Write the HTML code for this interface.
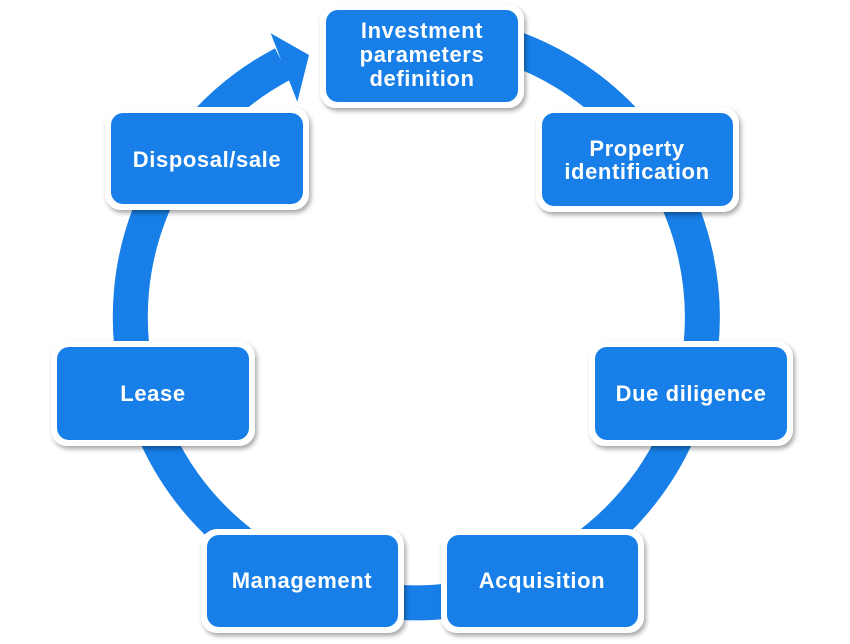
<!DOCTYPE html>
<html>
<head>
<meta charset="utf-8">
<style>
  html,body{margin:0;padding:0;background:#fff;}
  body{width:850px;height:644px;overflow:hidden;}
  svg{display:block;}
  text{font-family:"Liberation Sans", Arial, sans-serif;font-weight:bold;font-size:22px;fill:#fff;letter-spacing:0.6px;}
</style>
</head>
<body>
<svg width="850" height="644" viewBox="0 0 850 644" xmlns="http://www.w3.org/2000/svg">
  <defs>
    <filter id="sh" x="-20%" y="-20%" width="140%" height="150%">
      <feDropShadow dx="2" dy="3" stdDeviation="2.5" flood-color="#000" flood-opacity="0.35"/>
    </filter>
  </defs>

  <!-- ring -->
  <path d="M 366.3 35.3 A 286 286 0 1 1 283.1 63.8" fill="none" stroke="#177fe7" stroke-width="35"/>
  <!-- arrowhead -->
  <polygon points="270.7,33.3 309,55 297.3,101.7" fill="#177fe7"/>

  <!-- boxes -->
  <g filter="url(#sh)">
    <rect x="320" y="4" width="204" height="104" rx="16" fill="#fff"/>
    <rect x="536" y="107" width="203" height="105" rx="16" fill="#fff"/>
    <rect x="589" y="341" width="204" height="105" rx="16" fill="#fff"/>
    <rect x="441" y="529" width="203" height="104" rx="16" fill="#fff"/>
    <rect x="201" y="529" width="203" height="104" rx="16" fill="#fff"/>
    <rect x="51" y="341" width="204" height="105" rx="16" fill="#fff"/>
    <rect x="105" y="107" width="204" height="103" rx="16" fill="#fff"/>
  </g>
  <g fill="#177fe7">
    <rect x="326" y="10" width="192" height="92" rx="12"/>
    <rect x="542" y="113" width="191" height="93" rx="12"/>
    <rect x="595" y="347" width="192" height="93" rx="12"/>
    <rect x="447" y="535" width="191" height="92" rx="12"/>
    <rect x="207" y="535" width="191" height="92" rx="12"/>
    <rect x="57" y="347" width="192" height="93" rx="12"/>
    <rect x="111" y="113" width="192" height="91" rx="12"/>
  </g>

  <!-- labels -->
  <text x="422" y="38" text-anchor="middle">Investment</text>
  <text x="422" y="62" text-anchor="middle">parameters</text>
  <text x="422" y="86" text-anchor="middle">definition</text>

  <text x="637" y="156" text-anchor="middle">Property</text>
  <text x="637" y="179" text-anchor="middle">identification</text>

  <text x="691" y="401" text-anchor="middle">Due diligence</text>
  <text x="542" y="588" text-anchor="middle">Acquisition</text>
  <text x="302" y="588" text-anchor="middle">Management</text>
  <text x="153" y="401" text-anchor="middle">Lease</text>
  <text x="207" y="167" text-anchor="middle">Disposal/sale</text>
</svg>
</body>
</html>
